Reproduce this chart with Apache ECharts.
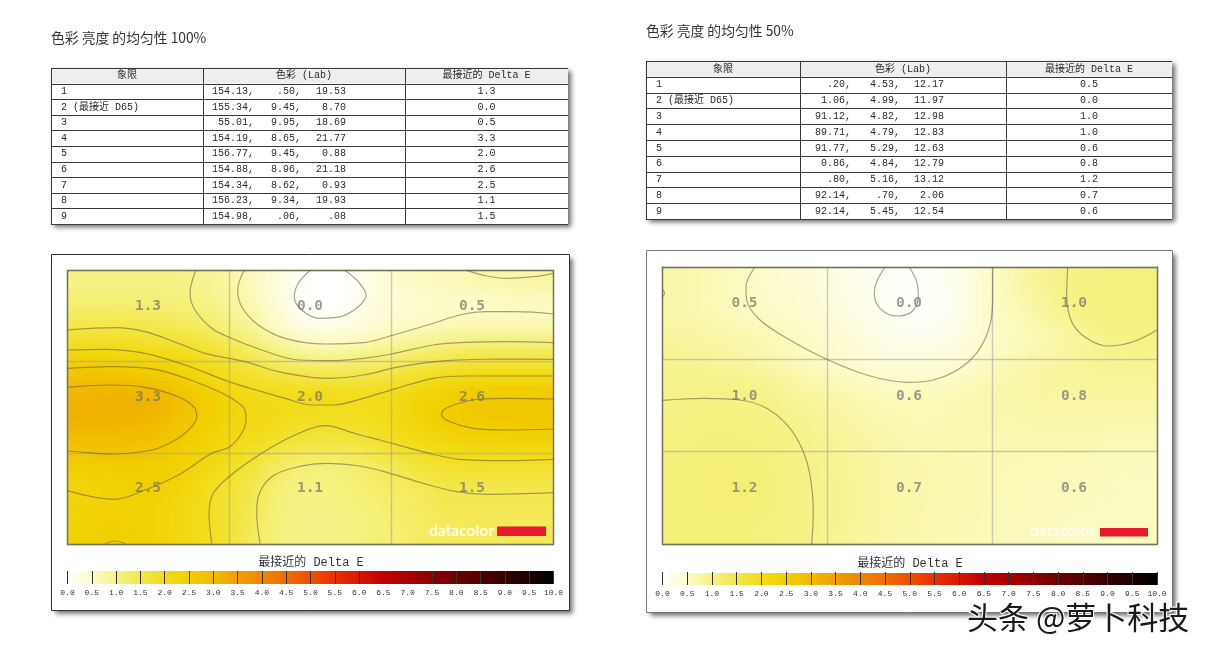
<!DOCTYPE html>
<html><head><meta charset="utf-8">
<style>html,body{margin:0;padding:0;background:#fff}#c{width:1207px;height:652px}</style>
<script src="https://cdn.jsdelivr.net/npm/echarts@6/dist/echarts.min.js"></script></head>
<body><div id="c"></div>
<script>
// ---------- tables ----------
const tableHeader = ['象限', '色彩 (Lab)', '最接近的 Delta E'];
const quadrantNames = ['1', '2 (最接近 D65)', '3', '4', '5', '6', '7', '8', '9'];
const labA100 = ['154.13,', '155.34,', '55.01,', '154.19,', '156.77,', '154.88,', '154.34,', '156.23,', '154.98,'];
const labB100 = ['.50,', '9.45,', '9.95,', '8.65,', '9.45,', '8.96,', '8.62,', '9.34,', '.06,'];
const labC100 = ['19.53', '8.70', '18.69', '21.77', '0.88', '21.18', '0.93', '19.93', '.08'];
const delta100 = ['1.3', '0.0', '0.5', '3.3', '2.0', '2.6', '2.5', '1.1', '1.5'];
const labA50 = ['.20,', '1.06,', '91.12,', '89.71,', '91.77,', '0.86,', '.80,', '92.14,', '92.14,'];
const labB50 = ['4.53,', '4.99,', '4.82,', '4.79,', '5.29,', '4.84,', '5.16,', '.70,', '5.45,'];
const labC50 = ['12.17', '11.97', '12.98', '12.83', '12.63', '12.79', '13.12', '2.06', '12.54'];
const delta50 = ['0.5', '0.0', '1.0', '1.0', '0.6', '0.8', '1.2', '0.7', '0.6'];
// map labels, in reading order of the 3x3 quadrants
const mapLabels100 = ['1.3', '0.0', '0.5', '3.3', '2.0', '2.6', '2.5', '1.1', '1.5'];
const mapLabels50 = ['0.5', '0.0', '1.0', '1.0', '0.6', '0.8', '1.2', '0.7', '0.6'];
// colour scale, one colour per 0.5 step
const scaleTicks = [0,.5,1,1.5,2,2.5,3,3.5,4,4.5,5,5.5,6,6.5,7,7.5,8,8.5,9,9.5,10];
const scaleColors = ['#ffffff','#fcfbc8','#f6f285','#f3e74a','#f2dc1a','#f1cf00','#f1bb00','#ef9f00','#ee8800','#ef6e00','#f04f00','#e63200','#d61800','#c00000','#a80000','#8a0000','#6e0000','#520000','#350000','#1c0000','#000000'];
// ---------- Delta E field ----------
const field100 = [
[1.0,1.0,1.0,1.0,.98,.92,.8,.6,.35,.1,0,.05,.25,.45,.55,.6,.65,.7,.72,.75],
[1.2,1.2,1.2,1.18,1.12,1.05,.9,.7,.4,.12,0,.08,.28,.4,.45,.5,.5,.52,.55,.55],
[1.55,1.55,1.55,1.5,1.45,1.32,1.12,.9,.6,.35,.25,.3,.42,.55,.62,.68,.72,.72,.72,.72],
[2.1,2.1,2.05,2.0,1.92,1.78,1.55,1.3,1.05,.85,.75,.8,.9,1.0,1.1,1.2,1.3,1.3,1.3,1.3],
[2.75,2.72,2.68,2.58,2.42,2.2,1.95,1.75,1.6,1.5,1.45,1.45,1.5,1.6,1.75,1.9,2.0,2.05,2.05,2.05],
[3.1,3.12,3.12,3.08,2.85,2.55,2.3,2.1,2.0,2.0,2.0,1.95,1.95,2.05,2.25,2.4,2.55,2.6,2.6,2.6],
[3.15,3.15,3.12,3.05,2.85,2.55,2.32,2.15,2.05,1.95,1.9,1.9,1.95,2.1,2.3,2.5,2.6,2.65,2.65,2.65],
[2.9,2.9,2.88,2.8,2.62,2.42,2.2,2.0,1.8,1.65,1.6,1.6,1.7,1.9,2.05,2.2,2.3,2.3,2.35,2.35],
[2.55,2.6,2.6,2.55,2.45,2.25,2.0,1.7,1.4,1.2,1.15,1.2,1.35,1.5,1.7,1.8,1.85,1.85,1.85,1.85],
[2.3,2.35,2.45,2.45,2.3,2.05,1.8,1.5,1.2,1.05,1.05,1.1,1.2,1.3,1.4,1.5,1.5,1.5,1.5,1.5],
[2.35,2.4,2.4,2.35,2.2,2.0,1.75,1.45,1.15,1.0,1.0,1.05,1.12,1.22,1.32,1.4,1.42,1.42,1.42,1.42],
[2.4,2.45,2.45,2.35,2.2,2.0,1.75,1.4,1.1,1.0,1.0,1.02,1.08,1.18,1.28,1.34,1.36,1.36,1.36,1.36]
];
// ---------- Delta E field ----------
const field50 = [
[.72,.65,.56,.47,.38,.28,.16,.07,.05,.18,.46,.72,.92,1.02,1.05,1.07],
[.72,.65,.57,.5,.42,.32,.2,.08,.03,.15,.48,.65,.85,1.02,1.07,1.07],
[.8,.75,.7,.62,.52,.42,.3,.18,.15,.25,.45,.58,.7,.85,.98,1.02],
[.92,.88,.82,.75,.62,.5,.42,.36,.36,.42,.55,.68,.78,.85,.88,.9],
[.97,.98,.98,.93,.8,.7,.62,.57,.58,.62,.68,.74,.78,.8,.82,.82],
[1.03,1.05,1.05,1.0,.92,.82,.72,.66,.64,.66,.68,.7,.72,.73,.72,.72],
[1.07,1.1,1.1,1.05,.98,.88,.8,.72,.68,.67,.66,.66,.66,.65,.63,.62],
[1.1,1.12,1.12,1.08,1.0,.92,.82,.74,.7,.68,.65,.63,.62,.6,.58,.57],
[1.1,1.12,1.12,1.08,1.0,.93,.83,.75,.7,.67,.64,.62,.6,.58,.57,.56],
[1.1,1.1,1.1,1.06,1.0,.92,.82,.74,.69,.66,.63,.6,.58,.56,.55,.55]
];
// ---------- contour lines (plot units) ----------
const contours100 = [
[[242.5,0],[230.8,12.8],[226.8,26.2],[234.2,39.5],[252,47.8],[272.5,46.2],[290.8,36.2],[298.5,24.5],[290.8,11.2],[277.5,0]],
[[176.5,0],[170.2,19.5],[174.2,36.2],[190.8,54.5],[217.5,67.8],[257.5,73.5],[295.8,72.2],[322.5,65.5],[365.8,52.8],[392.5,44.5],[419.2,41.2],[449.2,41.2],[486,43.5]],
[[128.2,0],[122.5,22.8],[127.5,39.5],[144.2,57.8],[161.5,66.8],[194.2,79.5],[230.8,89.5],[265.8,90.2],[295.8,87.8],[324.2,83.5],[365.8,74.5],[399.2,71.8],[439.2,71.2],[486,72.2]],
[[0,59.5],[47.5,57.2],[77.5,61.2],[110.8,72.8],[137.5,82.8],[177.5,91.2],[210.8,101.2],[244.2,106.8],[262.5,107.8],[295.8,104.5],[332.5,96.2],[379.2,90.2],[432.5,88.5],[486,88.8]],
[[0,79.5],[37.5,78.8],[77.5,82.8],[117.5,94.5],[161.5,111.2],[194.2,121.2],[217.5,127.8],[244.2,134.5],[265.8,134.5],[295.8,127.8],[329.2,117.8],[365.8,107.8],[399.2,105.5],[439.2,105.5],[486,105.5]],
[[0,97.8],[44.2,96.2],[87.5,98.8],[127.5,111.2],[161.5,126.2],[177.5,139.5],[178.5,149.5],[174.2,162.8],[161.5,176.8],[144.2,182.8],[110.8,204.5],[77.5,219.5],[47.5,228.8],[24.2,226.2],[0,220.2]],
[[0,116.8],[44.2,114.5],[77.5,116.8],[110.8,126.2],[127.5,137.8],[129.2,146.2],[124.2,156.2],[110.8,167.8],[90.8,177.8],[74.2,181.2],[47.5,183.5],[20.8,182.2],[0,180.5]],
[[37.5,273],[47.5,270.5],[57.5,273]],
[[144.2,273],[141.5,242.8],[145.8,222.8],[161.5,206.2],[194.2,182.8],[227.5,164.5],[257.5,155.2],[265.8,156.2],[292.5,164.5],[312.5,169.5],[359.2,182.2],[392.5,188.8],[439.2,190.2],[486,188.8]],
[[192.5,273],[189.2,242.8],[190.8,226.2],[204.2,206.2],[230.8,196.2],[260.8,192.8],[292.5,195.5],[322.5,202.8],[355.8,212.8],[389.2,221.2],[419.2,223.8],[486,222.2]],
[[486,128.5],[439.2,127.8],[412.5,128.5],[389.2,133.5],[375.8,139.5],[374.2,144.5],[382.5,151.2],[405.8,157.8],[439.2,159.5],[486,158.5]],
[[399.2,0],[419.2,5.5],[439.2,7.8],[465.8,6.2],[486,2.8]]
];
const contours50 = [
[[222.5,0],[214.2,14.7],[211.8,26.3],[217.5,41.3],[234.2,49],[249.2,44.7],[255.8,29.7],[254.2,14.7],[246.8,0]],
[[92.5,0],[83.5,19.7],[84.2,33],[97.5,53],[127.5,73],[164.2,92.3],[204.2,108],[244.2,115.3],[270.8,113],[297.5,101.3],[317.5,81.3],[328.2,54.7],[330.2,28],[330.2,0]],
[[405.2,0],[404.2,28],[409.2,54.7],[424.2,71.3],[445.8,79],[470.8,74.7],[494.5,63]],
[[0,133.3],[40.8,131.3],[77.5,133],[104.2,141.3],[127.5,161.3],[140.8,184.7],[147.5,208],[150.8,244.7],[149.2,277]],
[[0,22],[2,26],[0,30]]
];

// ---------- layout (page pixels) ----------
const P100 = {l:67.5, t:270.5, w:486, h:273.6};
const P50  = {l:662.5, t:267, w:494.5, h:277};
const LP100 = [[80.5,35.5],[242.5,35.5],[404.5,35.5],[80.5,126.5],[242.5,126.5],[404.5,126.5],[80.5,217.5],[242.5,217.5],[404.5,217.5]];
const LP50 = [[82,36.3],[246.5,36.3],[411.5,36.3],[82,129.7],[246.5,129.7],[411.5,129.7],[82,221.3],[246.5,221.3],[411.5,221.3]];
const MONO = "'Liberation Mono','Noto Sans CJK SC',monospace";
const SANS = "'Noto Sans CJK SC','Noto Sans',sans-serif";

const gfx = [];
function txt(x,y,s,o){gfx.push({type:'text',x,y,z:50,silent:true,style:Object.assign({text:s,fill:'#2a2a2a',font:'10px '+MONO,textAlign:'left',textVerticalAlign:'middle'},o||{})});}
function rect(x,y,w,h,st,z){gfx.push({type:'rect',shape:{x,y,width:w,height:h},z:z==null?-10:z,silent:true,style:st});}
function line(x1,y1,x2,y2,c){gfx.push({type:'line',shape:{x1,y1,x2,y2},z:-5,silent:true,style:{stroke:c,lineWidth:1}});}
const SHADOW={shadowBlur:5,shadowOffsetX:3,shadowOffsetY:3,shadowColor:'rgba(0,0,0,.6)'};

function table(T,A,B,C,D){
  const n=quadrantNames.length, rh=(T.b-T.t)/(n+1);
  rect(T.l,T.t,T.r-T.l,T.b-T.t,Object.assign({fill:'#fff'},SHADOW));
  rect(T.l,T.t,T.r-T.l,rh,{fill:'#eeeeee'},-9);
  for(let i=0;i<=n+1;i++){const y=Math.round(T.t+i*rh)+.5;line(T.l,y,T.r,y,'#3a3a3a');}
  [T.l,T.c1,T.c2].forEach(x=>line(x+.5,T.t,x+.5,T.b,'#3a3a3a'));
  txt((T.l+T.c1)/2,T.t+rh/2,tableHeader[0],{textAlign:'center'});
  txt((T.c1+T.c2)/2,T.t+rh/2,tableHeader[1],{textAlign:'center'});
  txt((T.c2+T.r)/2,T.t+rh/2,tableHeader[2],{textAlign:'center'});
  for(let i=0;i<n;i++){
    const y=T.t+(i+1.5)*rh;
    txt(T.l+10,y,quadrantNames[i]);
    txt(T.a,y,A[i],{textAlign:'right'});
    txt(T.b2,y,B[i],{textAlign:'right'});
    txt(T.c3,y,C[i],{textAlign:'right'});
    txt((T.c2+T.r)/2,y,D[i],{textAlign:'center'});
  }
}
txt(51,38,'色彩 亮度 的均匀性 100%',{font:'13.8px '+SANS,fill:'#333'});
txt(646,31,'色彩 亮度 的均匀性 50%',{font:'13.8px '+SANS,fill:'#333'});
table({l:51,r:568,t:68,b:224,c1:203,c2:405,a:254,b2:301,c3:346},labA100,labB100,labC100,delta100);
table({l:646,r:1172,t:61,b:219,c1:800,c2:1006,a:851,b2:900,c3:944},labA50,labB50,labC50,delta50);
// panels: the shadow comes from the fill, the outline has none
rect(51.5,254.5,518,356,Object.assign({fill:'#fff'},SHADOW));
rect(51.5,254.5,518,356,{fill:'none',stroke:'#333',lineWidth:1},-8);
rect(646.5,250.5,526,362,Object.assign({fill:'#fff'},SHADOW));
rect(646.5,250.5,526,362,{fill:'none',stroke:'#777',lineWidth:1},-8);
// colour bar titles
txt(311,563,'最接近的 Delta E',{textAlign:'center',font:'12px '+MONO,fill:'#333'});
txt(910,564,'最接近的 Delta E',{textAlign:'center',font:'12px '+MONO,fill:'#333'});
// datacolor marks
txt(429,531,'datacolor',{font:'bold 15.5px Lato,sans-serif',fill:'rgba(255,255,255,.9)'});
rect(497,526.5,49,9.5,{fill:'#e8192c'},40);
txt(1030,531,'datacolor',{font:'bold 15.5px Lato,sans-serif',fill:'rgba(255,255,255,.75)'});
rect(1100,528,48,8.5,{fill:'#e8192c'},40);
// watermark
gfx.push({type:'text',x:967,y:617,z:60,silent:true,style:{text:'头条 @萝卜科技',font:'31px '+SANS,fill:'#1a1a1a',stroke:'#fff',lineWidth:2,textAlign:'left',textVerticalAlign:'middle'}});

// ---------- series ----------
const heat=(m)=>{const out=[];m.forEach((r,j)=>r.forEach((v,i)=>out.push([i,j,v])));return out;};
const idx=n=>Array.from({length:n},(_,i)=>String(i));
// each read value fills its own cell; inside a cell the shading is blended towards the neighbouring read values
const cr=(a,b,c,d,t)=>.5*(2*b+(c-a)*t+(2*a-5*b+4*c-d)*t*t+(3*b-a-3*c+d)*t*t*t);
function shade(m,fy,fx){
  const R=m.length,C=m[0].length,at=(r,c)=>m[Math.max(0,Math.min(R-1,r))][Math.max(0,Math.min(C-1,c))];
  const r0=Math.floor(fy),c0=Math.floor(fx),ty=fy-r0,tx=fx-c0,rows=[];
  for(let k=-1;k<=2;k++)rows.push(cr(at(r0+k,c0-1),at(r0+k,c0),at(r0+k,c0+1),at(r0+k,c0+2),tx));
  return Math.max(0,cr(rows[0],rows[1],rows[2],rows[3],ty));
}
const SUB=6;
function cellRender(m){return function(params,api){
  const i=api.value(0),j=api.value(1),c=api.coord([i,j]),s=api.size([1,1]),kids=[];
  for(let a=0;a<SUB;a++)for(let b=0;b<SUB;b++){
    const fx=i+(a+.5)/SUB-.5,fy=j+(b+.5)/SUB-.5;
    const x0=Math.round(c[0]-s[0]/2+a*s[0]/SUB),x1=Math.round(c[0]-s[0]/2+(a+1)*s[0]/SUB);
    const y0=Math.round(c[1]-s[1]/2+b*s[1]/SUB),y1=Math.round(c[1]-s[1]/2+(b+1)*s[1]/SUB);
    // one pixel of overlap so that neighbouring cells leave no seam
    if(x1>x0&&y1>y0)kids.push({type:'rect',shape:{x:x0,y:y0,width:x1-x0+1,height:y1-y0+1},style:{fill:echarts.color.lerp(shade(m,fy,fx)/10,scaleColors)}});
  }
  return {type:'group',children:kids};
};}
const splitStyle={show:true,lineStyle:{color:'rgba(165,165,165,.6)',width:1.4}};
const edge={show:true,onZero:false,lineStyle:{color:'#75745a',width:1.4}};
const off={axisTick:{show:false},axisLabel:{show:false},splitLine:{show:false}};
const plotAxes=(g,cats,isY,max,iv,pos,pos2)=>[
  Object.assign({type:'category',gridIndex:g,data:cats,position:pos,axisLine:edge,z:6,inverse:isY},off),
  Object.assign({type:'value',gridIndex:g,min:0,max,interval:iv,position:pos2,axisLine:edge,inverse:isY,z:6},off,{splitLine:splitStyle})
];
const barAxis=(g)=>({type:'value',gridIndex:g,min:0,max:10,interval:.5,position:'bottom',z:6,
  axisLine:{show:false},splitLine:{show:false},
  axisTick:{show:true,inside:true,length:13,lineStyle:{color:'#333',width:1}},
  axisLabel:{show:true,margin:5,fontSize:8,fontFamily:'Liberation Mono',color:'#333',hideOverlap:false,showMinLabel:true,showMaxLabel:true,
    formatter:v=>v.toFixed(1)}});
const barY=g=>({type:'value',gridIndex:g,min:0,max:1,show:false});
const grad={type:'linear',x:0,y:0,x2:1,y2:0,colorStops:scaleColors.map((c,i)=>({offset:scaleTicks[i]/10,color:c}))};

const series=[
 {type:'custom',xAxisIndex:0,yAxisIndex:0,data:heat(field100),z:1,silent:true,renderItem:cellRender(field100),encode:{x:0,y:1},clip:true},
 {type:'custom',xAxisIndex:2,yAxisIndex:2,data:heat(field50),z:1,silent:true,renderItem:cellRender(field50),encode:{x:0,y:1},clip:true}
];
function addContours(list,xi,yi){list.forEach(pts=>series.push({type:'line',xAxisIndex:xi,yAxisIndex:yi,data:pts,showSymbol:false,smooth:.35,z:8,silent:true,
  lineStyle:{color:'rgba(95,90,70,.55)',width:1.2}}));}
addContours(contours100,1,1);
addContours(contours50,3,3);
function addLabels(pos,labels,xi,yi){series.push({type:'scatter',xAxisIndex:xi,yAxisIndex:yi,symbolSize:0,z:9,silent:true,
  data:pos.map((p,i)=>[p[0],p[1],labels[i]]),
  label:{show:true,position:'inside',formatter:d=>d.value[2],fontFamily:'DejaVu Sans Mono',fontWeight:'bold',fontSize:14.5,color:'rgba(110,110,110,.85)'}});}
addLabels(LP100,mapLabels100,1,1);
addLabels(LP50,mapLabels50,3,3);

const chart=echarts.init(document.getElementById('c'),null,{renderer:'canvas'});
chart.setOption({
 animation:false,
 backgroundColor:'#fff',
 grid:[
  {left:P100.l,top:P100.t,width:P100.w,height:P100.h},
  {left:P50.l,top:P50.t,width:P50.w,height:P50.h},
  {left:P100.l,top:571,width:P100.w,height:13,show:true,borderWidth:0,backgroundColor:grad},
  {left:P50.l,top:573,width:P50.w,height:12,show:true,borderWidth:0,backgroundColor:grad}
 ],
 xAxis:[...plotAxes(0,idx(field100[0].length),false,486,162,'top','bottom'),
        ...plotAxes(1,idx(field50[0].length),false,494.5,494.5/3,'top','bottom'),
        barAxis(2),barAxis(3)],
 yAxis:[...plotAxes(0,idx(field100.length),true,273.6,91.2,'left','right'),
        ...plotAxes(1,idx(field50.length),true,277,277/3,'left','right'),
        barY(2),barY(3)],
 series,
 graphic:{elements:gfx}
});
</script></body></html>
